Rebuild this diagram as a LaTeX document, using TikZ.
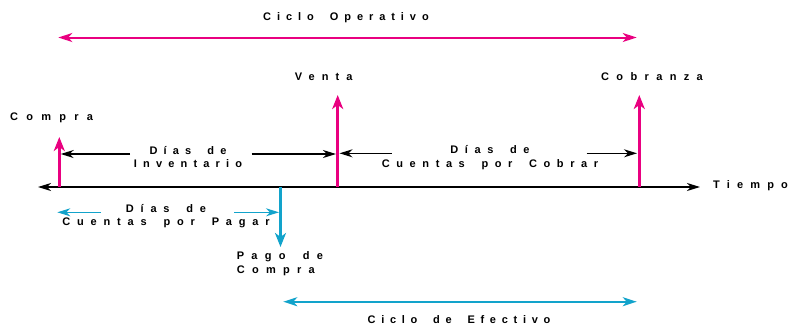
\documentclass[tikz,border=0pt]{standalone}
\usepackage{fontspec}
\newfontfamily\lblfamily{Liberation Sans}
\newcommand\lblfont[1]{\fontsize{11}{13.7}\selectfont\lblfamily\bfseries
	\addfontfeatures{LetterSpace=#1}}
\newcommand\hueco{\hspace{7pt}}
\usetikzlibrary{arrows.meta, positioning}
\definecolor{rosa}{RGB}{233,0,128}
\definecolor{turquesa}{RGB}{18,163,203}
\tikzset{
	lbl/.style={inner sep=0pt, anchor=base, align=center, font=\lblfont{#1}},
	lbl/.default=62,
	hito/.style={line width=3.3pt, -{Stealth[length=14pt, width=11pt, inset=4pt]}},
	plazo/.style={line width=1.4pt, -{Stealth[length=13pt, width=8pt, inset=4pt]}},
	ciclo/.style={line width=2pt, {Stealth[length=14pt, width=9pt, inset=4pt]}-{Stealth[length=14pt, width=9pt, inset=4pt]}},
}

\begin{document}
\begin{tikzpicture}[x=1pt, y=-1pt]
	\useasboundingbox (0,0) rectangle (791,325);
	% eje del tiempo
	\coordinate (ejeI) at (38,187);
	\coordinate (ejeD) at (700,187);
	\draw[line width=1.5pt, {Stealth[length=13pt, width=8pt, inset=4pt]}-{Stealth[length=13pt, width=8pt, inset=4pt]}] (ejeI) -- (ejeD);
	\node[lbl=65, anchor=base west] (tiempo) at (713,188.3) {Tiempo};

	% hitos
	\coordinate (compra0) at (59.3,187);  \coordinate (compra1) at (59.3,137);
	\coordinate (venta0) at (337.7,187);  \coordinate (venta1) at (337.7,95);
	\coordinate (cobro0) at (639.3,187);  \coordinate (cobro1) at (639.3,95);
	\coordinate (pago0) at (280.5,187);   \coordinate (pago1) at (280.5,247);
	\draw[hito, rosa, line width=2.8pt] (compra0) -- (compra1);
	\draw[hito, rosa] (venta0) -- (venta1);
	\draw[hito, rosa] (cobro0) -- (cobro1);
	\draw[hito, turquesa] (pago0) -- (pago1);
	\node[lbl=75] (compra) at (51.5,120.7) {Compra};
	\node[lbl=64] (venta) at (323.7,80.7) {Venta};
	\node[lbl=67] (cobranza) at (652,80) {Cobranza};
	\node[lbl=66, anchor=base west, align=left] (pago) at (236.7,273.3) {Pago \hueco de\\Compra};

	% plazos
	\node[lbl=56] (inv) at (188,167.7) {Días \hueco de\\Inventario};
	\draw[plazo] (130,154) coordinate (inv1) -- (60.7,154) coordinate (inv0);
	\draw[plazo] (251.7,154) coordinate (inv2) -- (336,154) coordinate (inv3);
	\node[lbl=60] (cxc) at (490,167) {Días \hueco de\\Cuentas \hueco por \hueco Cobrar};
	\draw[plazo] (391.7,153.3) coordinate (cxc1) -- (339.5,153.3) coordinate (cxc0);
	\draw[plazo] (586.7,153.3) coordinate (cxc2) -- (637,153.3) coordinate (cxc3);
	\node[lbl=62] (cxp) at (166,225.7) {Días \hueco de\\Cuentas \hueco por \hueco Pagar};
	\draw[plazo, turquesa] (101,212.3) coordinate (cxp1) -- (57.3,212.3) coordinate (cxp0);
	\draw[plazo, turquesa] (234,212.3) coordinate (cxp2) -- (279,212.3) coordinate (cxp3);

	% ciclos
	\coordinate (opI) at (58.3,37.5);  \coordinate (opD) at (636.7,37.5);
	\draw[ciclo, rosa] (opI) -- (opD);
	\node[lbl=54] (operativo) at (346,20) {Ciclo \hueco Operativo};
	\coordinate (efI) at (283.3,301.7);  \coordinate (efD) at (636.7,301.7);
	\draw[ciclo, turquesa] (efI) -- (efD);
	\node[lbl=52] (efectivo) at (459,323.5) {Ciclo \hueco de \hueco Efectivo};
\end{tikzpicture}
\end{document}
